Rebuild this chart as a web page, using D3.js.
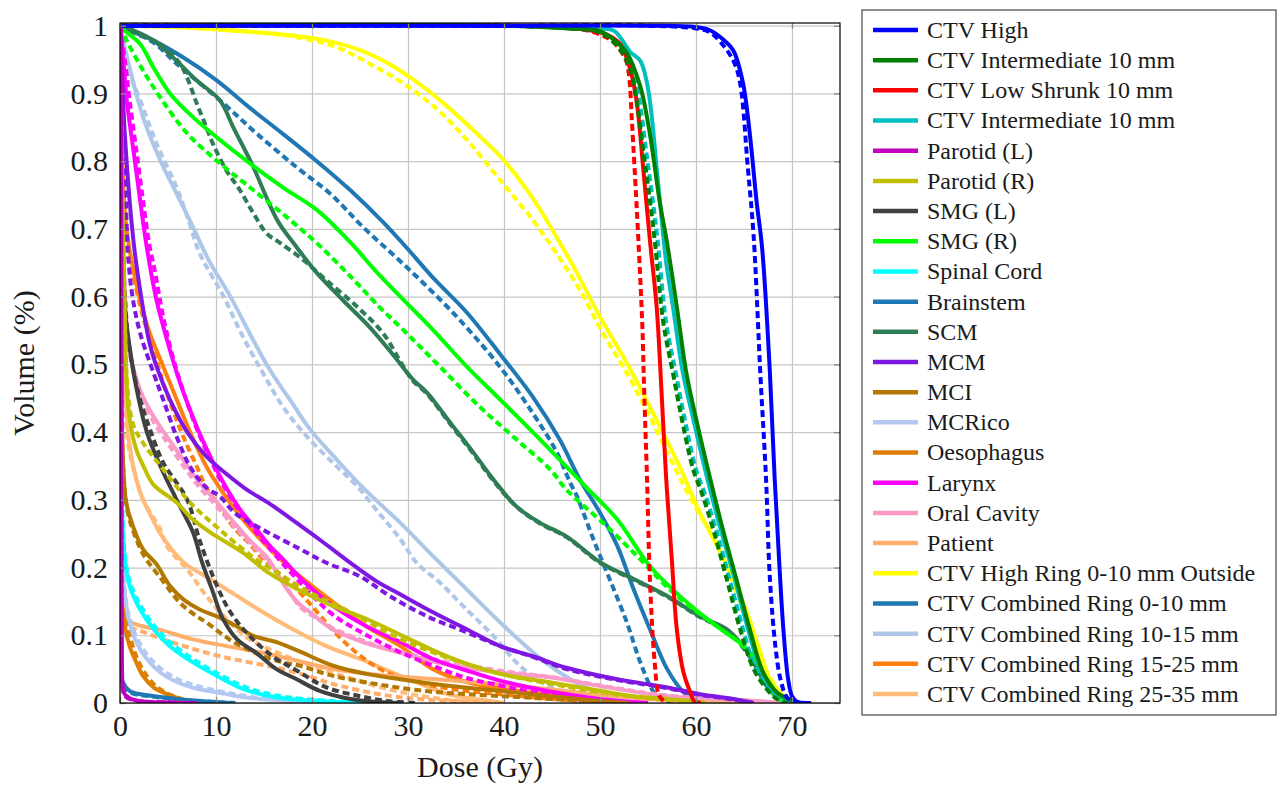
<!DOCTYPE html>
<html>
<head>
<meta charset="utf-8">
<script src="https://cdn.jsdelivr.net/npm/d3@7"></script>
<style>
body { margin: 0; background: #fff; }
</style>
</head>
<body>
<svg id="chart" width="1283" height="788"></svg>
<script>
// tick values
var doseTicks = [0, 10, 20, 30, 40, 50, 60, 70];
var volumeTicks = [0, 0.1, 0.2, 0.3, 0.4, 0.5, 0.6, 0.7, 0.8, 0.9, 1];

// structure names (legend order)
var structureNames = ['CTV High', 'CTV Intermediate 10 mm', 'CTV Low Shrunk 10 mm', 'CTV Intermediate 10 mm',
  'Parotid (L)', 'Parotid (R)', 'SMG (L)', 'SMG (R)', 'Spinal Cord', 'Brainstem', 'SCM', 'MCM', 'MCI',
  'MCRico', 'Oesophagus', 'Larynx', 'Oral Cavity', 'Patient', 'CTV High Ring 0-10 mm Outside',
  'CTV Combined Ring 0-10 mm', 'CTV Combined Ring 10-15 mm', 'CTV Combined Ring 15-25 mm', 'CTV Combined Ring 25-35 mm'];

// DVH points [dose Gy, volume fraction], plan A = solid, plan B = dashed
var ctvHighA = [[0,1],[40,1],[55,1],[60,0.998],[61.5,0.993],[62.8,0.98],[63.9,0.963],[64.9,0.915],[65.6,0.841],[66.3,0.742],[66.9,0.67],[67.7,0.487],[68.2,0.33],[68.7,0.2],[69.1,0.109],[69.6,0.035],[70,0.01],[70.5,0.002],[72,0]];
var ctvHighB = [[0,1],[40,1],[55,1],[60,0.996],[61.5,0.99],[63,0.968],[64,0.945],[64.6,0.915],[65.4,0.79],[66,0.69],[66.7,0.487],[67.3,0.33],[67.7,0.183],[68.3,0.08],[68.8,0.035],[69.4,0.01],[70,0.002],[71,0]];
var ctvInterA = [[0,1],[40,1],[46.5,0.996],[50,0.992],[51.8,0.975],[52.8,0.96],[54.2,0.91],[55.2,0.84],[56.2,0.742],[57,0.678],[58,0.585],[59,0.487],[60.1,0.414],[61.5,0.33],[62.8,0.256],[64.2,0.183],[65.6,0.109],[67,0.045],[68.4,0.016],[69.8,0.005],[70.5,0]];
var ctvInterB = [[0,1],[40,1],[47,0.996],[50,0.99],[51.8,0.97],[53.1,0.938],[53.8,0.89],[54.5,0.816],[55.2,0.742],[55.7,0.683],[56.6,0.561],[57.6,0.487],[58.6,0.414],[59.7,0.345],[60.6,0.31],[61.8,0.256],[63.2,0.183],[64.6,0.109],[66,0.05],[67.4,0.02],[68.4,0.006],[69.5,0]];
var ctvLowA = [[0,1],[40,1],[46,0.997],[48.6,0.994],[50.7,0.987],[52.1,0.973],[53.1,0.938],[53.8,0.89],[54.5,0.79],[55.2,0.683],[55.9,0.585],[56.4,0.462],[56.9,0.33],[57.5,0.208],[58,0.109],[58.7,0.045],[59.4,0.016],[59.8,0.003],[60.5,0]];
var ctvLowB = [[0,1],[40,1],[48,0.995],[51,0.98],[52.3,0.96],[52.8,0.945],[53.1,0.915],[53.3,0.865],[53.6,0.79],[54,0.683],[54.4,0.561],[54.6,0.462],[54.9,0.33],[55.2,0.183],[55.7,0.06],[56.2,0.01],[57,0]];
var ctvInter2A = [[0,1],[40,1],[48,0.997],[51.4,0.993],[52.1,0.983],[53.1,0.962],[54.2,0.948],[54.9,0.915],[55.4,0.865],[55.9,0.79],[56.4,0.717],[56.9,0.65],[57.6,0.585],[58.6,0.49],[59.7,0.42],[61.2,0.33],[62.5,0.26],[63.9,0.19],[65.3,0.115],[66.7,0.05],[68,0.018],[69.5,0.005],[70.3,0]];
var ctvInter2B = [[0,1],[40,1],[47,0.996],[50,0.99],[51.8,0.975],[53.3,0.94],[54.1,0.89],[54.8,0.816],[55.5,0.742],[56,0.683],[56.9,0.561],[57.9,0.487],[58.9,0.414],[60,0.345],[60.9,0.31],[62.1,0.256],[63.5,0.183],[64.9,0.109],[66.2,0.05],[67.6,0.02],[68.6,0.006],[69.7,0]];
var parotidLA = [[0.12,1],[0.14,0.6],[0.16,0.2],[0.2,0.06],[0.25,0.03],[0.4,0.015],[1,0.007],[2,0.003],[4,0.001],[8,0]];
var parotidLB = [[0.1,1],[0.12,0.6],[0.14,0.2],[0.18,0.05],[0.3,0.02],[0.7,0.008],[2,0.003],[5,0.001],[8,0]];
var parotidRA = [[0,1],[0.1,0.88],[0.25,0.72],[0.45,0.6],[0.7,0.47],[1,0.42],[1.7,0.374],[2.6,0.345],[3.5,0.322],[5.9,0.296],[7.5,0.272],[9.4,0.252],[12.8,0.222],[15.5,0.192],[18.75,0.166],[22.2,0.143],[25.7,0.124],[30.2,0.094],[34.4,0.067],[39.6,0.043],[45,0.03],[50,0.018],[53.5,0.01],[57,0.006],[60,0.002],[61,0]];
var parotidRB = [[0,1],[0.1,0.9],[0.3,0.7],[0.55,0.55],[0.8,0.462],[1.4,0.41],[2.4,0.384],[4.5,0.345],[7.3,0.296],[10.4,0.256],[13.9,0.215],[17,0.187],[19.8,0.163],[24,0.134],[28.5,0.099],[32,0.078],[36,0.058],[40,0.042],[45,0.028],[50,0.016],[55,0.007],[59,0.002],[60,0]];
var smgLA = [[0,1],[0.1,0.86],[0.2,0.74],[0.3,0.65],[0.5,0.58],[0.8,0.546],[1.6,0.473],[2.8,0.4],[4.2,0.35],[5.9,0.3],[7.6,0.252],[8.5,0.21],[9.7,0.163],[10.7,0.125],[12.2,0.094],[14.3,0.073],[16.3,0.05],[18.4,0.035],[20.8,0.018],[24,0.006],[27.4,0.001],[29,0]];
var smgLB = [[0,1],[0.1,0.88],[0.25,0.72],[0.5,0.6],[1,0.521],[2.1,0.448],[3.1,0.405],[4.5,0.355],[7,0.3],[8.3,0.24],[10.1,0.173],[11.5,0.134],[13.5,0.099],[15.9,0.069],[18.4,0.048],[21.5,0.023],[24.7,0.011],[27.8,0.003],[31,0]];
var smgRA = [[0,1],[0.3,0.995],[2.1,0.973],[3.5,0.938],[5.2,0.9],[7.6,0.865],[10.1,0.835],[13.5,0.797],[17,0.761],[20.5,0.728],[24,0.68],[26.5,0.64],[29.2,0.6],[32.6,0.551],[36.1,0.497],[39.6,0.448],[43,0.4],[46.5,0.349],[48.6,0.318],[51.8,0.271],[55.2,0.202],[58.7,0.153],[62.2,0.113],[65.3,0.08],[67.4,0.035],[68.75,0.01],[70,0]];
var smgRB = [[0,1],[0.7,0.978],[2.4,0.934],[4.2,0.894],[7,0.841],[10.4,0.797],[13.9,0.757],[17.4,0.717],[20.5,0.679],[24,0.63],[27,0.585],[29.5,0.551],[33.3,0.497],[37.5,0.437],[41.3,0.389],[44.8,0.345],[46.5,0.315],[50.7,0.261],[54.2,0.212],[57.6,0.163],[61.1,0.124],[64.9,0.084],[67,0.045],[68,0.016],[69.3,0]];
var cordA = [[0,1],[0.05,0.7],[0.12,0.4],[0.25,0.27],[0.5,0.212],[1,0.173],[2.1,0.138],[3.5,0.109],[5.2,0.084],[7.6,0.06],[10.1,0.04],[12.8,0.021],[15.6,0.01],[18.4,0.005],[22,0.002],[26,0]];
var cordB = [[0,1],[0.05,0.7],[0.12,0.42],[0.25,0.28],[0.5,0.22],[1,0.18],[2.1,0.145],[3.5,0.115],[5.2,0.09],[7.6,0.065],[10.1,0.044],[12.8,0.025],[15.6,0.013],[18.4,0.007],[22,0.003],[27,0]];
var brainstemA = [[0,1],[0.04,0.5],[0.08,0.12],[0.2,0.035],[1,0.018],[3.1,0.011],[5.9,0.006],[9.4,0.002],[12,0]];
var brainstemB = [[0,1],[0.04,0.45],[0.08,0.1],[0.2,0.03],[1,0.016],[3.1,0.01],[6,0.005],[9.5,0.002],[12,0]];
var scmA = [[0,1],[1.4,0.993],[3.5,0.978],[5.9,0.948],[8,0.919],[10.4,0.89],[11.8,0.85],[13.9,0.791],[15.3,0.745],[16.5,0.71],[18.4,0.673],[20.5,0.635],[23.2,0.595],[26,0.555],[28.4,0.515],[30.5,0.478],[32,0.458],[34.4,0.414],[36.8,0.37],[38.9,0.33],[41.3,0.29],[43.75,0.266],[46.5,0.246],[50,0.208],[53.5,0.183],[57,0.158],[60.4,0.128],[63.2,0.109],[64.9,0.084],[66.3,0.054],[67.4,0.025],[68.4,0.01],[69.5,0]];
var scmB = [[0,1],[1.7,0.988],[4.2,0.973],[6.25,0.944],[7,0.923],[8,0.885],[9,0.85],[9.7,0.825],[11.1,0.786],[12.5,0.757],[13.9,0.723],[15.3,0.693],[16.7,0.679],[19.1,0.654],[21.5,0.624],[24.7,0.585],[27.4,0.546],[29.5,0.497],[30.5,0.476],[32,0.456],[34.4,0.412],[36.8,0.368],[38.9,0.328],[41.3,0.29],[43.75,0.265],[46.5,0.245],[50,0.207],[53.5,0.182],[57,0.157],[60.4,0.127],[63.2,0.107],[64.9,0.082],[66.3,0.052],[67.4,0.024],[68.4,0.009],[69.4,0]];
var mcmA = [[0,1],[0.2,0.93],[0.5,0.84],[1,0.742],[1.5,0.67],[2.2,0.6],[3.1,0.53],[3.8,0.497],[5.2,0.448],[7,0.4],[9,0.364],[11.1,0.338],[13.2,0.315],[15.5,0.295],[18.4,0.266],[21.2,0.237],[24,0.207],[26.7,0.18],[29.5,0.158],[32.6,0.134],[36.1,0.109],[39.6,0.084],[43,0.069],[46.5,0.052],[51.8,0.035],[57,0.023],[60.4,0.013],[63.9,0.006],[66,0]];
var mcmB = [[0,1],[0.2,0.92],[0.5,0.8],[0.85,0.66],[1.3,0.6],[2.1,0.546],[3.5,0.487],[4.5,0.448],[5.9,0.393],[7.3,0.349],[9,0.318],[10.4,0.305],[12,0.28],[14.6,0.258],[18.4,0.23],[21.5,0.207],[25,0.187],[28.1,0.158],[32,0.128],[36,0.105],[39.6,0.084],[43,0.068],[46.5,0.05],[51.8,0.034],[57,0.022],[60.4,0.012],[64,0.005],[66,0]];
var mciA = [[0,1],[0.08,0.7],[0.15,0.5],[0.3,0.36],[0.6,0.3],[1,0.276],[2.4,0.227],[3.8,0.205],[5.2,0.173],[6.6,0.153],[8.3,0.138],[10.1,0.128],[12.2,0.113],[13.9,0.099],[16.3,0.09],[18.4,0.078],[22.2,0.055],[25.7,0.043],[29.2,0.035],[34.4,0.025],[39.6,0.018],[44.8,0.01],[50,0.003],[53,0]];
var mciB = [[0,1],[0.08,0.7],[0.15,0.5],[0.3,0.36],[0.6,0.3],[1,0.27],[2.4,0.22],[4.2,0.185],[6.25,0.148],[8,0.128],[9,0.119],[10.4,0.104],[11.8,0.09],[13.2,0.08],[14.9,0.069],[17,0.06],[18.75,0.055],[22.2,0.04],[26.7,0.028],[31.6,0.018],[36.1,0.013],[41.3,0.009],[44.8,0.006],[50,0.002],[52,0]];
var mcricoA = [[0,1],[0.04,0.6],[0.12,0.35],[0.22,0.24],[0.35,0.183],[0.85,0.128],[1.7,0.09],[2.8,0.065],[4.2,0.045],[5.9,0.031],[8,0.021],[10.1,0.016],[12.2,0.01],[14.6,0.006],[18,0.003],[20,0]];
var mcricoB = [[0,1],[0.04,0.62],[0.12,0.36],[0.22,0.25],[0.4,0.18],[0.9,0.13],[1.8,0.095],[3,0.068],[4.5,0.048],[6.2,0.034],[8.3,0.024],[10.5,0.017],[12.8,0.011],[15,0.006],[19,0.002],[21,0]];
var oesoA = [[0,1],[0.04,0.6],[0.1,0.35],[0.2,0.2],[0.35,0.14],[0.5,0.114],[1,0.084],[1.7,0.06],[2.4,0.04],[3.5,0.023],[4.9,0.013],[5.9,0.008],[7,0.002],[7.5,0]];
var oesoB = [[0,1],[0.04,0.62],[0.1,0.36],[0.2,0.21],[0.35,0.15],[0.7,0.119],[1.2,0.09],[1.9,0.062],[2.7,0.042],[3.8,0.024],[5.1,0.013],[6.2,0.007],[7.5,0.002],[8,0]];
var larynxA = [[0,1],[0.35,0.95],[0.7,0.89],[1.4,0.816],[2.1,0.742],[2.8,0.672],[3.8,0.595],[4.9,0.536],[6.25,0.473],[8,0.408],[9.4,0.364],[10.7,0.327],[12.5,0.286],[14.3,0.255],[15.6,0.232],[17,0.212],[18.75,0.185],[20.5,0.162],[22.2,0.143],[25.7,0.113],[29.2,0.09],[32.6,0.065],[36.1,0.048],[39.6,0.033],[44.8,0.017],[50,0.006],[55,0]];
var larynxB = [[0,1],[0.5,0.95],[1,0.89],[1.7,0.816],[2.4,0.742],[3.1,0.673],[3.6,0.64],[4.5,0.57],[5.5,0.511],[6.6,0.46],[8,0.405],[9.4,0.36],[10.7,0.323],[12.5,0.283],[14.3,0.25],[15.6,0.228],[17,0.205],[18.75,0.178],[20.5,0.152],[22.2,0.13],[25.7,0.1],[29.2,0.075],[32.6,0.055],[36.1,0.037],[39.6,0.026],[43,0.016],[48,0.006],[53,0]];
var oralA = [[0,1],[0.1,0.88],[0.3,0.7],[0.6,0.58],[1,0.521],[2.1,0.462],[3.5,0.423],[4.9,0.393],[6.6,0.359],[8.3,0.325],[10.1,0.296],[11.8,0.268],[13.5,0.24],[15.3,0.215],[17.4,0.168],[18.75,0.145],[19.8,0.134],[22.2,0.108],[25.7,0.088],[29.5,0.073],[34.4,0.056],[39.6,0.045],[44.8,0.038],[50,0.025],[57,0.01],[63.9,0.005],[67.4,0.002],[69,0]];
var oralB = [[0,1],[0.1,0.88],[0.3,0.7],[0.6,0.58],[1,0.52],[2.1,0.455],[3.5,0.415],[4.9,0.385],[6.6,0.35],[8.3,0.318],[10.1,0.29],[11.8,0.262],[13.5,0.237],[15.3,0.21],[17.4,0.17],[18.75,0.142],[20.5,0.125],[22.2,0.11],[25.7,0.09],[29.2,0.075],[32.6,0.065],[36,0.056],[40,0.047],[45,0.038],[50,0.026],[57,0.011],[64,0.005],[68,0]];
var patientA = [[0,1],[0.05,0.6],[0.12,0.3],[0.2,0.18],[0.35,0.128],[1,0.12],[2.4,0.113],[4.2,0.108],[7.6,0.094],[11.1,0.084],[14.6,0.075],[18,0.064],[22.2,0.05],[26,0.043],[30,0.038],[35,0.033],[40,0.027],[45,0.02],[50,0.012],[55,0.006],[60,0.002],[65,0]];
var patientB = [[0,1],[0.05,0.58],[0.12,0.28],[0.2,0.17],[0.35,0.12],[1,0.112],[2.4,0.105],[4.5,0.094],[7.6,0.08],[10.4,0.069],[13.5,0.06],[17,0.05],[20,0.038],[22.2,0.028],[27.4,0.012],[32,0.005],[38,0.001],[40,0]];
var highRingA = [[0,1],[5,0.999],[9.4,0.995],[16.3,0.988],[21.5,0.978],[25,0.964],[28,0.944],[31,0.916],[34,0.882],[37,0.843],[40,0.801],[43,0.745],[45.8,0.68],[47.6,0.635],[50,0.57],[52.8,0.502],[55.2,0.437],[57.3,0.378],[58.9,0.33],[60.4,0.281],[62.2,0.232],[63.9,0.183],[65.3,0.134],[66.7,0.075],[67.7,0.035],[69.1,0.01],[70,0]];
var highRingB = [[0,1],[5,0.998],[11.8,0.993],[18.4,0.983],[22.6,0.968],[26,0.944],[29.5,0.915],[33,0.877],[36.1,0.832],[39.6,0.772],[43,0.713],[45.4,0.665],[47.9,0.61],[50.3,0.546],[52.8,0.487],[55,0.428],[57,0.37],[58.4,0.33],[59.9,0.29],[61.5,0.252],[63.2,0.202],[64.6,0.149],[66,0.094],[67.4,0.045],[68.75,0.016],[69.8,0]];
var ring0A = [[0,1],[1,0.993],[3.5,0.978],[6.6,0.953],[10.1,0.919],[13.5,0.879],[17,0.84],[20.5,0.8],[24,0.757],[27.4,0.71],[30,0.67],[32.6,0.628],[36.1,0.577],[39.6,0.515],[43,0.452],[45.8,0.389],[47.9,0.33],[50,0.281],[51.8,0.232],[53.5,0.168],[55.2,0.109],[57,0.05],[58.7,0.016],[59.7,0.006],[61,0]];
var ring0B = [[0,1],[1,0.993],[3.5,0.975],[5.9,0.944],[10.8,0.885],[14.3,0.84],[18.4,0.791],[21.9,0.752],[25.3,0.703],[30.2,0.639],[35.1,0.57],[39.6,0.496],[43,0.428],[45.5,0.37],[46.9,0.325],[47.6,0.305],[49.3,0.242],[51,0.183],[52.8,0.119],[54.2,0.06],[55.6,0.016],[56.5,0.004],[57.5,0]];
var ring10A = [[0,1],[0.3,0.98],[1,0.938],[2.4,0.865],[4.2,0.801],[5.9,0.752],[7.6,0.703],[9.2,0.655],[11.5,0.6],[13.5,0.546],[15.6,0.492],[17.7,0.448],[19.8,0.404],[22.6,0.359],[25.3,0.318],[29.2,0.266],[32.6,0.217],[36.1,0.168],[39.6,0.119],[43,0.075],[45.8,0.045],[48.2,0.025],[50.7,0.01],[53,0]];
var ring10B = [[0,1],[0.3,0.97],[1,0.93],[2.1,0.89],[3.8,0.826],[5.9,0.761],[7.2,0.71],[8.3,0.664],[10.8,0.6],[12.8,0.541],[14.9,0.487],[17,0.437],[19.5,0.393],[22.6,0.349],[24.7,0.32],[27,0.28],[29.2,0.242],[30.9,0.207],[33.3,0.178],[36.1,0.138],[38.9,0.099],[41.3,0.06],[43.4,0.035],[45.8,0.016],[48,0]];
var ring15A = [[0,1],[0.1,0.92],[0.3,0.78],[0.6,0.71],[1,0.669],[2.1,0.595],[3.1,0.546],[4.5,0.497],[5.9,0.448],[7.3,0.4],[9,0.349],[10.7,0.311],[12.8,0.271],[14.6,0.242],[16.5,0.215],[18.75,0.187],[22.2,0.149],[25.7,0.113],[29.2,0.084],[32.6,0.05],[36.1,0.031],[41.3,0.018],[45.8,0.01],[50,0.004],[55,0]];
var ring15B = [[0,1],[0.1,0.9],[0.3,0.75],[0.7,0.67],[1.4,0.629],[2.4,0.57],[3.5,0.521],[4.5,0.473],[5.5,0.433],[6.6,0.393],[8,0.349],[9,0.318],[10.4,0.29],[11.8,0.26],[13.5,0.235],[14.9,0.212],[16.3,0.195],[18.4,0.168],[20.8,0.13],[22.2,0.107],[25,0.07],[27.8,0.045],[30.9,0.031],[34.4,0.021],[39.6,0.013],[45,0.006],[50,0]];
var ring25A = [[0,1],[0.1,0.75],[0.3,0.55],[0.6,0.45],[1,0.38],[1.7,0.33],[2.4,0.3],[3.1,0.28],[4.2,0.25],[6.6,0.208],[9.4,0.183],[12.2,0.158],[14.9,0.134],[18,0.109],[21.5,0.084],[25,0.065],[28.4,0.045],[31,0.03],[34.4,0.012],[38,0.004],[40,0]];
var ring25B = [[0,1],[0.1,0.75],[0.3,0.55],[0.6,0.42],[1,0.37],[1.7,0.33],[2.4,0.3],[4.2,0.256],[4.9,0.231],[7,0.197],[9,0.158],[11.1,0.124],[13.5,0.094],[16.3,0.075],[19.8,0.055],[23.2,0.04],[26.7,0.025],[30,0.014],[34,0.005],[38,0]];

var planA = [ctvHighA, ctvInterA, ctvLowA, ctvInter2A, parotidLA, parotidRA, smgLA, smgRA, cordA, brainstemA, scmA, mcmA, mciA,
  mcricoA, oesoA, larynxA, oralA, patientA, highRingA, ring0A, ring10A, ring15A, ring25A];
var planB = [ctvHighB, ctvInterB, ctvLowB, ctvInter2B, parotidLB, parotidRB, smgLB, smgRB, cordB, brainstemB, scmB, mcmB, mciB,
  mcricoB, oesoB, larynxB, oralB, patientB, highRingB, ring0B, ring10B, ring15B, ring25B];

// line colours, same order as the names
var colors = ['#0000ff', '#008000', '#ff0000', '#00bfbf', '#bf00bf', '#bfbf00', '#404040', '#00ff00', '#00ffff',
  '#1f77b4', '#2e7d57', '#7f17e3', '#b27800', '#b4c8f2', '#dc7f00', '#ff00ff', '#f99ac8', '#ffae6c', '#ffff00',
  '#1f77b4', '#aec7e8', '#ff7f0e', '#ffbb78'];

var serifFont = '"Liberation Serif", "DejaVu Serif", serif';
var plotLeft = 120, plotRight = 840, plotTop = 23, plotBottom = 703;

var svg = d3.select('#chart');

var xScale = d3.scaleLinear().domain([0, 75]).range([plotLeft, plotRight]);
var yScale = d3.scaleLinear().domain([0, 1.004]).range([plotBottom, plotTop]);

svg.append('defs').append('clipPath').attr('id', 'plot-clip')
  .append('rect')
  .attr('x', plotLeft).attr('y', plotTop)
  .attr('width', plotRight - plotLeft).attr('height', plotBottom - plotTop);

// grid lines
svg.append('g')
  .attr('transform', 'translate(0,' + plotBottom + ')')
  .call(d3.axisBottom(xScale).tickValues(doseTicks).tickSize(-(plotBottom - plotTop)).tickFormat(''))
  .call(function(g) { g.select('.domain').remove(); })
  .selectAll('line').attr('stroke', '#c6c6c6').attr('stroke-width', 1.2);

svg.append('g')
  .attr('transform', 'translate(' + plotLeft + ',0)')
  .call(d3.axisLeft(yScale).tickValues(volumeTicks).tickSize(-(plotRight - plotLeft)).tickFormat(''))
  .call(function(g) { g.select('.domain').remove(); })
  .selectAll('line').attr('stroke', '#c6c6c6').attr('stroke-width', 1.2);

// curves
var line = d3.line()
  .x(function(d) { return xScale(d[0]); })
  .y(function(d) { return yScale(d[1]); })
  .curve(d3.curveCatmullRom.alpha(0.5));

var curves = svg.append('g').attr('clip-path', 'url(#plot-clip)');

// last series first so CTV High ends up on top
for (var i = structureNames.length - 1; i >= 0; i--) {
  curves.append('path')
    .attr('d', line(planA[i]))
    .attr('fill', 'none')
    .attr('stroke', colors[i])
    .attr('stroke-width', 4)
    .attr('stroke-linejoin', 'round');
  curves.append('path')
    .attr('d', line(planB[i]))
    .attr('fill', 'none')
    .attr('stroke', colors[i])
    .attr('stroke-width', 4)
    .attr('stroke-dasharray', '7,4');
}

// inward tick marks on all four sides
var tickColor = '#8a8a8a';
[
  [d3.axisBottom(xScale).tickValues(doseTicks), 'translate(0,' + plotBottom + ')'],
  [d3.axisTop(xScale).tickValues(doseTicks), 'translate(0,' + plotTop + ')'],
  [d3.axisLeft(yScale).tickValues(volumeTicks), 'translate(' + plotLeft + ',0)'],
  [d3.axisRight(yScale).tickValues(volumeTicks), 'translate(' + plotRight + ',0)']
].forEach(function(a) {
  svg.append('g')
    .attr('transform', a[1])
    .call(a[0].tickSize(-6).tickFormat(''))
    .call(function(g) { g.select('.domain').remove(); })
    .selectAll('line').attr('stroke', tickColor).attr('stroke-width', 1.3);
});

// frame
svg.append('rect')
  .attr('x', plotLeft).attr('y', plotTop)
  .attr('width', plotRight - plotLeft).attr('height', plotBottom - plotTop)
  .attr('fill', 'none').attr('stroke', '#000').attr('stroke-width', 1.2);

// tick labels
var xLabels = svg.append('g')
  .attr('transform', 'translate(0,' + plotBottom + ')')
  .call(d3.axisBottom(xScale).tickValues(doseTicks).tickSize(0))
  .call(function(g) { g.select('.domain').remove(); })
  .attr('font-family', serifFont).attr('font-size', 30);
xLabels.selectAll('text')
  .attr('dy', null).attr('y', 33).attr('fill', '#1a1a1a');

var yLabels = svg.append('g')
  .attr('transform', 'translate(' + plotLeft + ',0)')
  .call(d3.axisLeft(yScale).tickValues(volumeTicks).tickSize(0).tickFormat(d3.format('~g')))
  .call(function(g) { g.select('.domain').remove(); })
  .attr('font-family', serifFont).attr('font-size', 30);
yLabels.selectAll('text')
  .attr('x', -12).attr('dy', '0.32em').attr('fill', '#1a1a1a');

// axis titles
svg.append('text')
  .attr('x', (plotLeft + plotRight) / 2)
  .attr('y', 777)
  .attr('text-anchor', 'middle')
  .attr('font-family', serifFont)
  .attr('font-size', 30)
  .attr('fill', '#1a1a1a')
  .text('Dose (Gy)');

svg.append('text')
  .attr('transform', 'translate(34,' + ((plotTop + plotBottom) / 2) + ') rotate(-90)')
  .attr('text-anchor', 'middle')
  .attr('font-family', serifFont)
  .attr('font-size', 30)
  .attr('fill', '#1a1a1a')
  .text('Volume (%)');

// legend
var legend = svg.append('g');
legend.append('rect')
  .attr('x', 862).attr('y', 10)
  .attr('width', 414).attr('height', 705)
  .attr('fill', '#fff').attr('stroke', '#444').attr('stroke-width', 1.2);

var rowY = d3.scaleLinear().domain([0, structureNames.length - 1]).range([30, 694]);

structureNames.forEach(function(name, i) {
  legend.append('line')
    .attr('x1', 873).attr('x2', 918)
    .attr('y1', rowY(i)).attr('y2', rowY(i))
    .attr('stroke', colors[i]).attr('stroke-width', 4.5);
  legend.append('text')
    .attr('x', 927).attr('y', rowY(i))
    .attr('dy', '0.33em')
    .attr('font-family', serifFont)
    .attr('font-size', 24)
    .attr('fill', '#1a1a1a')
    .text(name);
});
</script>
</body>
</html>
